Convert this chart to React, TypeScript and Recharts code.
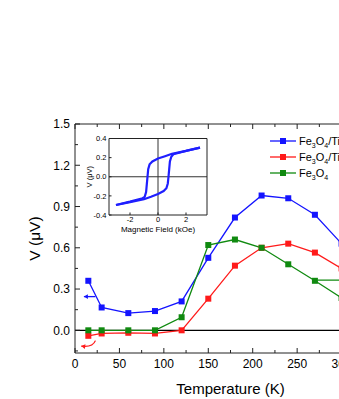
import React from 'react';
import { LineChart, Line, XAxis, YAxis, ReferenceLine, Legend, Label } from 'recharts';

// main panel: thermal voltage vs temperature
const temps = [15, 30, 60, 90, 120, 150, 180, 210, 240, 270, 300];
const vBlue = [0.36, 0.166, 0.125, 0.14, 0.21, 0.527, 0.82, 0.98, 0.96, 0.84, 0.63];
const vRed = [-0.04, -0.023, -0.018, -0.023, 0.0, 0.23, 0.47, 0.6, 0.63, 0.565, 0.45];
const vGreen = [0, 0, 0, 0, 0.095, 0.62, 0.66, 0.6, 0.48, 0.36, 0.235];

const seriesNames = ['Fe3O4/Ti', 'Fe3O4/Ti', 'Fe3O4'];
const seriesKeys = ['blue', 'red', 'green'];
const seriesColors = ['#1414ff', '#ff1a1a', '#108a10'];

const xTicks = [0, 25, 50, 75, 100, 125, 150, 175, 200, 225, 250, 275, 300, 325, 350];
const yTicks = [-0.15, 0, 0.15, 0.3, 0.45, 0.6, 0.75, 0.9, 1.05, 1.2, 1.35, 1.5];

// inset: hysteresis loop
const sweepDownH = [3, 2, 1, 0.5, 0, -0.4, -0.6, -0.7, -0.75, -0.8, -0.85, -0.95, -1.1, -2, -3];
const sweepDownV = [0.305, 0.27, 0.24, 0.215, 0.19, 0.16, 0.13, 0.08, 0.0, -0.08, -0.16, -0.21, -0.225, -0.26, -0.295];
const sweepUpH = [-3, -2, -1, -0.5, 0, 0.4, 0.6, 0.7, 0.75, 0.8, 0.85, 0.95, 1.1, 2, 3];
const sweepUpV = [-0.295, -0.265, -0.235, -0.21, -0.18, -0.15, -0.12, -0.07, 0.0, 0.08, 0.16, 0.21, 0.235, 0.27, 0.305];
const insetXTicks = [-2, 0, 2];
const insetYTicks = [-0.4, -0.2, 0, 0.2, 0.4];

const data = temps.map((T, i) => ({ T, blue: vBlue[i], red: vRed[i], green: vGreen[i] }));
const loopDown = sweepDownH.map((H, i) => ({ H, V: sweepDownV[i] }));
const loopUp = sweepUpH.map((H, i) => ({ H, V: sweepUpV[i] }));

const AXIS = '#222';

const formula = (s: string) =>
  s.split(/(\d)/).map((part, i) =>
    /\d/.test(part) ? (
      <span key={i} style={{ fontSize: 7, position: 'relative', top: 3 }}>{part}</span>
    ) : (
      <span key={i}>{part}</span>
    )
  );

const squareDot = (color: string) => (props: any) => (
  <rect key={`d-${props.index}`} x={props.cx - 3} y={props.cy - 3} width={6} height={6} fill={color} />
);

const BottomTick = ({ x, y, payload }: any) => {
  const major = payload.value % 50 === 0;
  return (
    <g>
      <line x1={x} x2={x} y1={y} y2={y - (major ? 5 : 3)} stroke={AXIS} />
      {major && (
        <text x={x} y={y + 15} textAnchor="middle" fontSize={12} fill="#000">{payload.value}</text>
      )}
    </g>
  );
};

const TopTick = ({ x, y, payload }: any) => {
  const major = payload.value % 50 === 0;
  return <line x1={x} x2={x} y1={y} y2={y + (major ? 5 : 3)} stroke={AXIS} />;
};

const LeftTick = ({ x, y, payload }: any) => {
  const v = payload.value;
  const major = Math.abs(Math.round(v / 0.3) * 0.3 - v) < 1e-6;
  return (
    <g>
      <line x1={x} x2={x + (major ? 5 : 3)} y1={y} y2={y} stroke={AXIS} />
      {major && (
        <text x={x - 5} y={y + 4.3} textAnchor="end" fontSize={12} fill="#000">{v.toFixed(1)}</text>
      )}
    </g>
  );
};

const InsetXTick = ({ x, y, payload }: any) => (
  <g>
    <line x1={x} x2={x} y1={y} y2={y - 2.5} stroke={AXIS} />
    <text x={x} y={y + 7.3} textAnchor="middle" fontSize={7.5} fill="#000">{payload.value}</text>
  </g>
);

const InsetLeftTick = ({ x, y, payload }: any) => (
  <g>
    <line x1={x} x2={x + 2.5} y1={y} y2={y} stroke={AXIS} />
    <text x={x - 2.5} y={y + 2.7} textAnchor="end" fontSize={7.5} fill="#000">{payload.value.toFixed(1)}</text>
  </g>
);

const InsetRightTick = ({ x, y }: any) => <line x1={x} x2={x - 2.5} y1={y} y2={y} stroke={AXIS} />;

const arrowHead = (x: number, y: number, ang: number, color: string) => {
  const len = 4;
  const hw = 2.4;
  const bx = x - len * Math.cos(ang);
  const by = y - len * Math.sin(ang);
  const px = -Math.sin(ang) * hw;
  const py = Math.cos(ang) * hw;
  return <polygon points={`${x},${y} ${bx + px},${by + py} ${bx - px},${by - py}`} fill={color} />;
};

const StraightArrow = (props: any) => {
  const { x1, y1, x2, y2, stroke } = props;
  const ang = Math.atan2(y2 - y1, x2 - x1);
  return (
    <g>
      <line x1={x1} y1={y1} x2={x2} y2={y2} stroke={stroke} strokeWidth={1.3} />
      {arrowHead(x2, y2, ang, stroke)}
    </g>
  );
};

const CurvedArrow = (props: any) => {
  const { x1, y1, x2, y2, stroke } = props;
  const cx = x1 - 0.2 * (x1 - x2);
  const cy = y2 + 1.5;
  const ang = Math.atan2(y2 - cy, x2 - cx);
  return (
    <g>
      <path d={`M${x1},${y1} Q${cx},${cy} ${x2},${y2}`} stroke={stroke} strokeWidth={1.3} fill="none" />
      {arrowHead(x2, y2, ang, stroke)}
    </g>
  );
};

const LegendBox = ({ payload }: any) => {
  const items = [...(payload || [])].sort(
    (a: any, b: any) => seriesKeys.indexOf(a.dataKey) - seriesKeys.indexOf(b.dataKey)
  );
  return (
    <div style={{ fontSize: 11, color: '#000' }}>
      {items.map((entry: any, i: number) => (
        <div key={i} style={{ display: 'flex', alignItems: 'center', height: 16, whiteSpace: 'nowrap' }}>
          <svg width={26} height={8} style={{ marginRight: 3.5 }}>
            <line x1={0} x2={26} y1={4} y2={4} stroke={entry.color} strokeWidth={1.3} />
            <rect x={10} y={1} width={6} height={6} fill={entry.color} />
          </svg>
          <span>{formula(entry.value)}</span>
        </div>
      ))}
    </div>
  );
};

const App = () => (
  <div
    style={{
      position: 'fixed',
      left: 0,
      top: 0,
      width: 339,
      height: 399,
      overflow: 'hidden',
      background: '#fff',
      fontFamily: '"Liberation Sans", Arial, sans-serif',
    }}
  >
    <div style={{ position: 'absolute', left: 0, top: 0 }}>
      <LineChart width={400} height={399} data={data} margin={{ top: 123, right: 14, bottom: 0, left: 0 }}>
        <XAxis
          dataKey="T"
          type="number"
          domain={[0, 350]}
          ticks={xTicks}
          interval={0}
          tickSize={0}
          tickMargin={0}
          tickLine={false}
          tick={<BottomTick />}
          axisLine={{ stroke: AXIS }}
          height={46}
        >
          <Label value="Temperature (K)" position="insideBottom" offset={5} fontSize={15} fill="#000" />
        </XAxis>
        <XAxis
          xAxisId="top"
          orientation="top"
          dataKey="T"
          type="number"
          domain={[0, 350]}
          ticks={xTicks}
          interval={0}
          tickSize={0}
          tickMargin={0}
          tickLine={false}
          tick={<TopTick />}
          axisLine={{ stroke: AXIS }}
          height={1}
        />
        <YAxis
          type="number"
          domain={[-0.165, 1.5]}
          ticks={yTicks}
          interval={0}
          tickSize={0}
          tickMargin={0}
          tickLine={false}
          tick={<LeftTick />}
          axisLine={{ stroke: AXIS }}
          width={75}
        >
          <Label value="V (μV)" angle={-90} position="center" dx={-3} fontSize={15.5} fill="#000" />
        </YAxis>
        <ReferenceLine y={0} stroke="#000" strokeWidth={1.2} />
        {seriesKeys.map((k, i) => (
          <Line
            key={k}
            dataKey={k}
            name={seriesNames[i]}
            type="linear"
            stroke={seriesColors[i]}
            strokeWidth={1.3}
            dot={squareDot(seriesColors[i])}
            activeDot={false}
            isAnimationActive={false}
          />
        ))}
        <ReferenceLine segment={[{ x: 23, y: 0.245 }, { x: 10, y: 0.245 }]} stroke={seriesColors[0]} shape={StraightArrow} />
        <ReferenceLine segment={[{ x: 23, y: -0.075 }, { x: 7, y: -0.115 }]} stroke={seriesColors[1]} shape={CurvedArrow} />
        <ReferenceLine segment={[{ x: 273, y: 0.365 }, { x: 345, y: 0.365 }]} stroke={seriesColors[2]} shape={StraightArrow} />
        <Legend
          layout="vertical"
          align="center"
          verticalAlign="middle"
          content={<LegendBox />}
          wrapperStyle={{ left: 269.5, top: 133, width: 130 }}
        />
      </LineChart>
    </div>
    <div style={{ position: 'absolute', left: 80, top: 130 }}>
      <LineChart width={133} height={110} margin={{ top: 7.5, right: 5, bottom: 0, left: 0 }}>
        <XAxis
          dataKey="H"
          type="number"
          domain={[-3.5, 3.5]}
          ticks={insetXTicks}
          interval={0}
          tickSize={0}
          tickMargin={0}
          tickLine={false}
          tick={<InsetXTick />}
          axisLine={{ stroke: AXIS }}
          height={25}
        >
          <Label value="Magnetic Field (kOe)" position="insideBottom" offset={8.5} fontSize={8} fill="#000" />
        </XAxis>
        <XAxis xAxisId="top" orientation="top" dataKey="H" type="number" domain={[-3.5, 3.5]} tick={false} tickLine={false} axisLine={{ stroke: AXIS }} height={1} />
        <YAxis
          type="number"
          domain={[-0.4, 0.4]}
          ticks={insetYTicks}
          interval={0}
          tickSize={0}
          tickMargin={0}
          tickLine={false}
          tick={<InsetLeftTick />}
          axisLine={{ stroke: AXIS }}
          width={29}
        >
          <Label value="V (μV)" angle={-90} position="center" dx={-5.5} fontSize={7.5} fill="#000" />
        </YAxis>
        <YAxis
          yAxisId="r"
          orientation="right"
          type="number"
          domain={[-0.4, 0.4]}
          ticks={insetYTicks}
          interval={0}
          tickSize={0}
          tickMargin={0}
          tickLine={false}
          tick={<InsetRightTick />}
          axisLine={{ stroke: AXIS }}
          width={1}
        />
        <ReferenceLine x={0} stroke="#333" />
        <ReferenceLine y={0} stroke="#333" />
        <Line data={loopDown} dataKey="V" type="linear" stroke="#1f1fff" strokeWidth={2.2} dot={false} activeDot={false} isAnimationActive={false} />
        <Line data={loopUp} dataKey="V" type="linear" stroke="#1f1fff" strokeWidth={2.2} dot={false} activeDot={false} isAnimationActive={false} />
      </LineChart>
    </div>
  </div>
);

export default App;
